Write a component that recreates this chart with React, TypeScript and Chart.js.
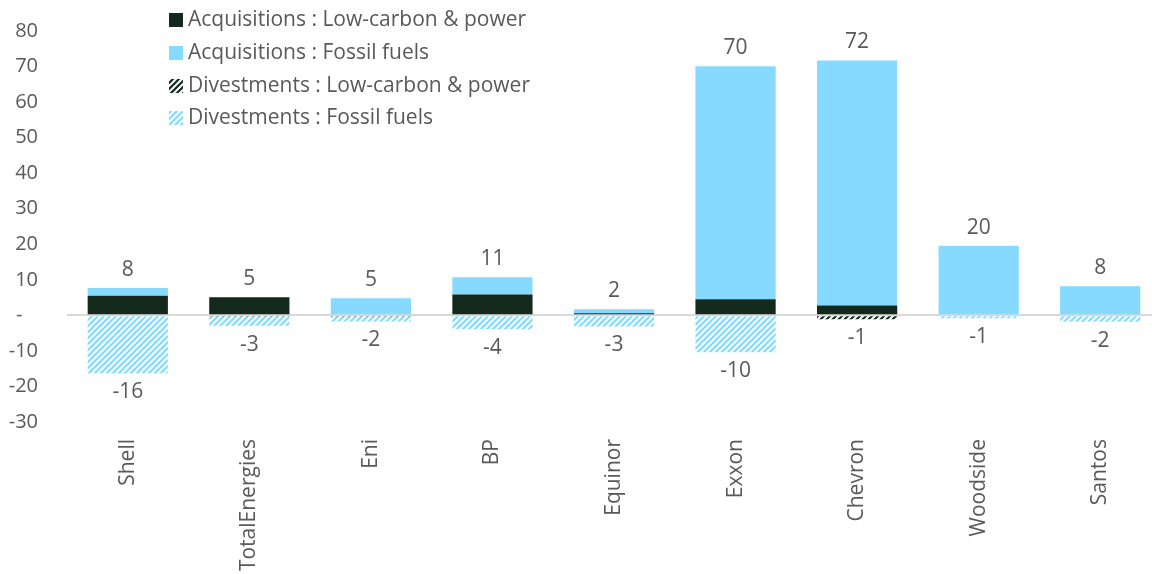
import React, { useEffect, useRef } from "react";
import { Chart, registerables } from "chart.js";
Chart.register(...registerables);

const categories = ["Shell", "TotalEnergies", "Eni", "BP", "Equinor", "Exxon", "Chevron", "Woodside", "Santos"];
const seriesNames = [
  "Acquisitions : Low-carbon & power",
  "Acquisitions : Fossil fuels",
  "Divestments : Low-carbon & power",
  "Divestments : Fossil fuels",
];
const acqLowCarbon = [5.5, 5.1, 0, 5.9, 0.6, 4.5, 2.8, 0, 0];
const acqFossil = [2.2, 0, 4.8, 4.8, 1.1, 65.6, 68.9, 19.6, 8.2];
const divLowCarbon = [0, -0.3, -0.3, 0, 0, 0, -1.1, 0, 0];
const divFossil = [-16.3, -2.6, -1.4, -3.9, -3.1, -10.4, 0, -0.8, -1.8];
const yMin = -30;
const yMax = 80;
const yStep = 10;

const DARK = "#13291b";
const LIGHT = "#86daff";
const TEXT = "#595959";
const FONT = "'Open Sans', 'Noto Sans', sans-serif";

function makePattern(color: string): CanvasPattern | string {
  const c = document.createElement("canvas");
  c.width = 6;
  c.height = 6;
  const g = c.getContext("2d");
  if (!g) return color;
  g.fillStyle = "#ffffff";
  g.fillRect(0, 0, 6, 6);
  g.strokeStyle = color;
  g.lineWidth = 2.2;
  g.beginPath();
  g.moveTo(-1, 7);
  g.lineTo(7, -1);
  g.moveTo(-1, 1);
  g.lineTo(1, -1);
  g.moveTo(5, 7);
  g.lineTo(7, 5);
  g.stroke();
  const p = g.createPattern(c, "repeat");
  return p || color;
}

export default function App() {
  const ref = useRef<HTMLCanvasElement | null>(null);

  useEffect(() => {
    if (!ref.current) return;
    const darkHatch = makePattern(DARK);
    const lightHatch = makePattern(LIGHT);
    const fills: any[] = [DARK, LIGHT, darkHatch, lightHatch];
    const values = [acqLowCarbon, acqFossil, divLowCarbon, divFossil];

    const labelsPlugin = {
      id: "totals",
      afterDatasetsDraw(chart: any) {
        const ctx = chart.ctx;
        const xs = chart.scales.x;
        const ys = chart.scales.y;
        ctx.save();
        ctx.font = `21px ${FONT}`;
        ctx.fillStyle = TEXT;
        ctx.textAlign = "center";
        ctx.textBaseline = "middle";
        categories.forEach((_, i) => {
          const pos = acqLowCarbon[i] + acqFossil[i];
          const neg = divLowCarbon[i] + divFossil[i];
          const x = xs.getPixelForValue(i);
          ctx.fillText(String(Math.round(pos)), x, ys.getPixelForValue(pos) - 18);
          ctx.fillText(String(Math.round(neg)), x, ys.getPixelForValue(neg) + 19);
        });
        ctx.restore();
      },
    };

    const legendPlugin = {
      id: "customLegend",
      afterDraw(chart: any) {
        const ctx = chart.ctx;
        const rows = [20, 53, 86, 118];
        ctx.save();
        ctx.font = `21px ${FONT}`;
        ctx.textAlign = "left";
        ctx.textBaseline = "middle";
        seriesNames.forEach((name, i) => {
          ctx.fillStyle = fills[i];
          ctx.fillRect(169, rows[i] - 7, 14, 14);
          ctx.fillStyle = TEXT;
          ctx.fillText(name, 188, rows[i]);
        });
        ctx.restore();
      },
    };

    const chart = new Chart(ref.current, {
      type: "bar",
      data: {
        labels: categories,
        datasets: values.map((v, i) => ({
          label: seriesNames[i],
          data: v,
          backgroundColor: fills[i],
          borderWidth: 0,
          barPercentage: 0.66,
          categoryPercentage: 1,
        })),
      },
      options: {
        responsive: false,
        animation: false,
        layout: { padding: { top: 31, right: 1, left: 0, bottom: 0 } },
        plugins: {
          legend: { display: false },
          tooltip: { enabled: false },
        },
        scales: {
          x: {
            stacked: true,
            grid: { display: false },
            border: { display: false },
            ticks: {
              minRotation: 90,
              maxRotation: 90,
              padding: 9,
              color: TEXT,
              font: { family: FONT, size: 21 },
            },
            afterFit(scale: any) {
              scale.height = 152;
              scale.paddingLeft = 0;
              scale.paddingRight = 0;
            },
          },
          y: {
            stacked: true,
            min: yMin,
            max: yMax,
            border: { display: false },
            grid: {
              drawTicks: false,
              color: (c: any) => (c.tick && c.tick.value === 0 ? "#d9d9d9" : "rgba(0,0,0,0)"),
              lineWidth: 2,
            },
            ticks: {
              stepSize: yStep,
              padding: 29,
              color: TEXT,
              font: { family: FONT, size: 20 },
              callback: (v: any) => (Number(v) === 0 ? "-   " : String(v)),
            },
            afterFit(scale: any) {
              scale.width = 67;
              scale.paddingTop = 0;
              scale.paddingBottom = 0;
            },
          },
        },
      },
      plugins: [labelsPlugin, legendPlugin],
    } as any);

    return () => chart.destroy();
  }, []);

  return (
    <div style={{ position: "fixed", left: 0, top: 0, width: 1152, height: 574, overflow: "hidden", background: "#fff" }}>
      <canvas ref={ref} width={1162} height={574} style={{ display: "block" }} />
    </div>
  );
}
